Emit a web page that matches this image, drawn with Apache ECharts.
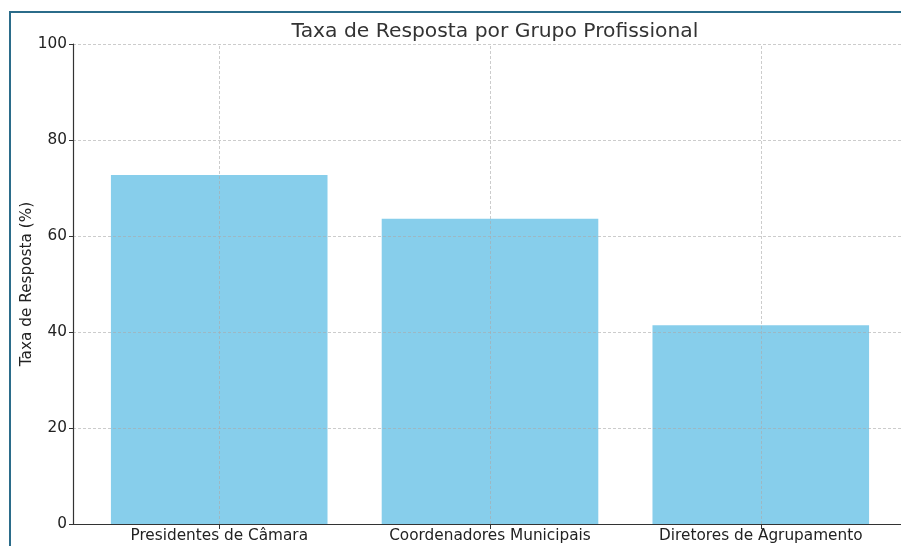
<!DOCTYPE html>
<html>
<head>
<meta charset="utf-8">
<script src="https://cdn.jsdelivr.net/npm/echarts@6/dist/echarts.min.js"></script>
<style>
  * { margin: 0; padding: 0; }
  html, body { width: 901px; height: 546px; overflow: hidden; background: #fff; }
  #chart { position: absolute; left: 0; top: 0; width: 907px; height: 546px; }
  /* moldura do recorte */
  .frame {
    position: absolute; left: 9px; top: 11px; width: 920px; height: 560px;
    border: 2px solid #2b6c8a; pointer-events: none;
  }
</style>
</head>
<body>
<div id="chart"></div>
<div class="frame"></div>
<script>
  // dados
  const grupos = ["Presidentes de Câmara", "Coordenadores Municipais", "Diretores de Agrupamento"];
  const taxas = [72.7, 63.6, 41.4];
  const posicoes = [0, 1, 2];
  const ticksY = [0, 20, 40, 60, 80, 100];

  const chart = echarts.init(document.getElementById("chart"));
  const fonte = "DejaVu Sans";
  const grade = { color: "rgba(170,170,170,0.6)", type: [3, 2], width: 1 };

  const option = {
    animation: false,
    title: {
      text: "Taxa de Resposta por Grupo Profissional",
      left: 490,
      top: 17,
      textAlign: "center",
      textStyle: { fontFamily: fonte, fontSize: 20.3, fontWeight: "normal", color: "#333" },
    },
    grid: { left: 73, top: 44, width: 834, height: 480 },
    xAxis: {
      type: "value",
      min: -0.54,
      max: 2.54,
      z: 3,
      axisLine: { onZero: false, lineStyle: { color: "#333", width: 1.2 } },
      axisTick: { show: true, customValues: posicoes, length: 5, lineStyle: { color: "#333" } },
      axisLabel: {
        customValues: posicoes,
        margin: 5,
        fontFamily: fonte, fontSize: 15.3, color: "#222",
        formatter: (v) => grupos[Math.round(v)],
      },
      splitLine: { show: false },
    },
    yAxis: {
      type: "value",
      min: 0,
      max: 100,
      interval: 20,
      z: 3,
      name: "Taxa de Resposta (%)",
      nameLocation: "middle",
      nameGap: 38,
      nameMoveOverlap: false,
      nameTextStyle: { fontFamily: fonte, fontSize: 15.3, color: "#222" },
      axisLine: { show: true, onZero: false, lineStyle: { color: "#333", width: 1.2 } },
      axisTick: { show: true, length: 4, lineStyle: { color: "#333" } },
      axisLabel: {
        margin: 6, fontFamily: fonte, fontSize: 15.3, color: "#222",
        formatter: (v) => (ticksY.includes(v) ? String(v) : ""),
      },
      splitLine: { show: true, lineStyle: grade },
    },
    series: [
      {
        type: "bar",
        data: posicoes.map((p, i) => [p, taxas[i]]),
        barWidth: 216.6,
        itemStyle: { color: "#87CEEB" },
        markLine: {
          silent: true,
          symbol: "none",
          label: { show: false },
          lineStyle: grade,
          data: posicoes.map((p) => ({ xAxis: p })),
        },
      },
    ],
  };
  chart.setOption(option);
</script>
</body>
</html>
